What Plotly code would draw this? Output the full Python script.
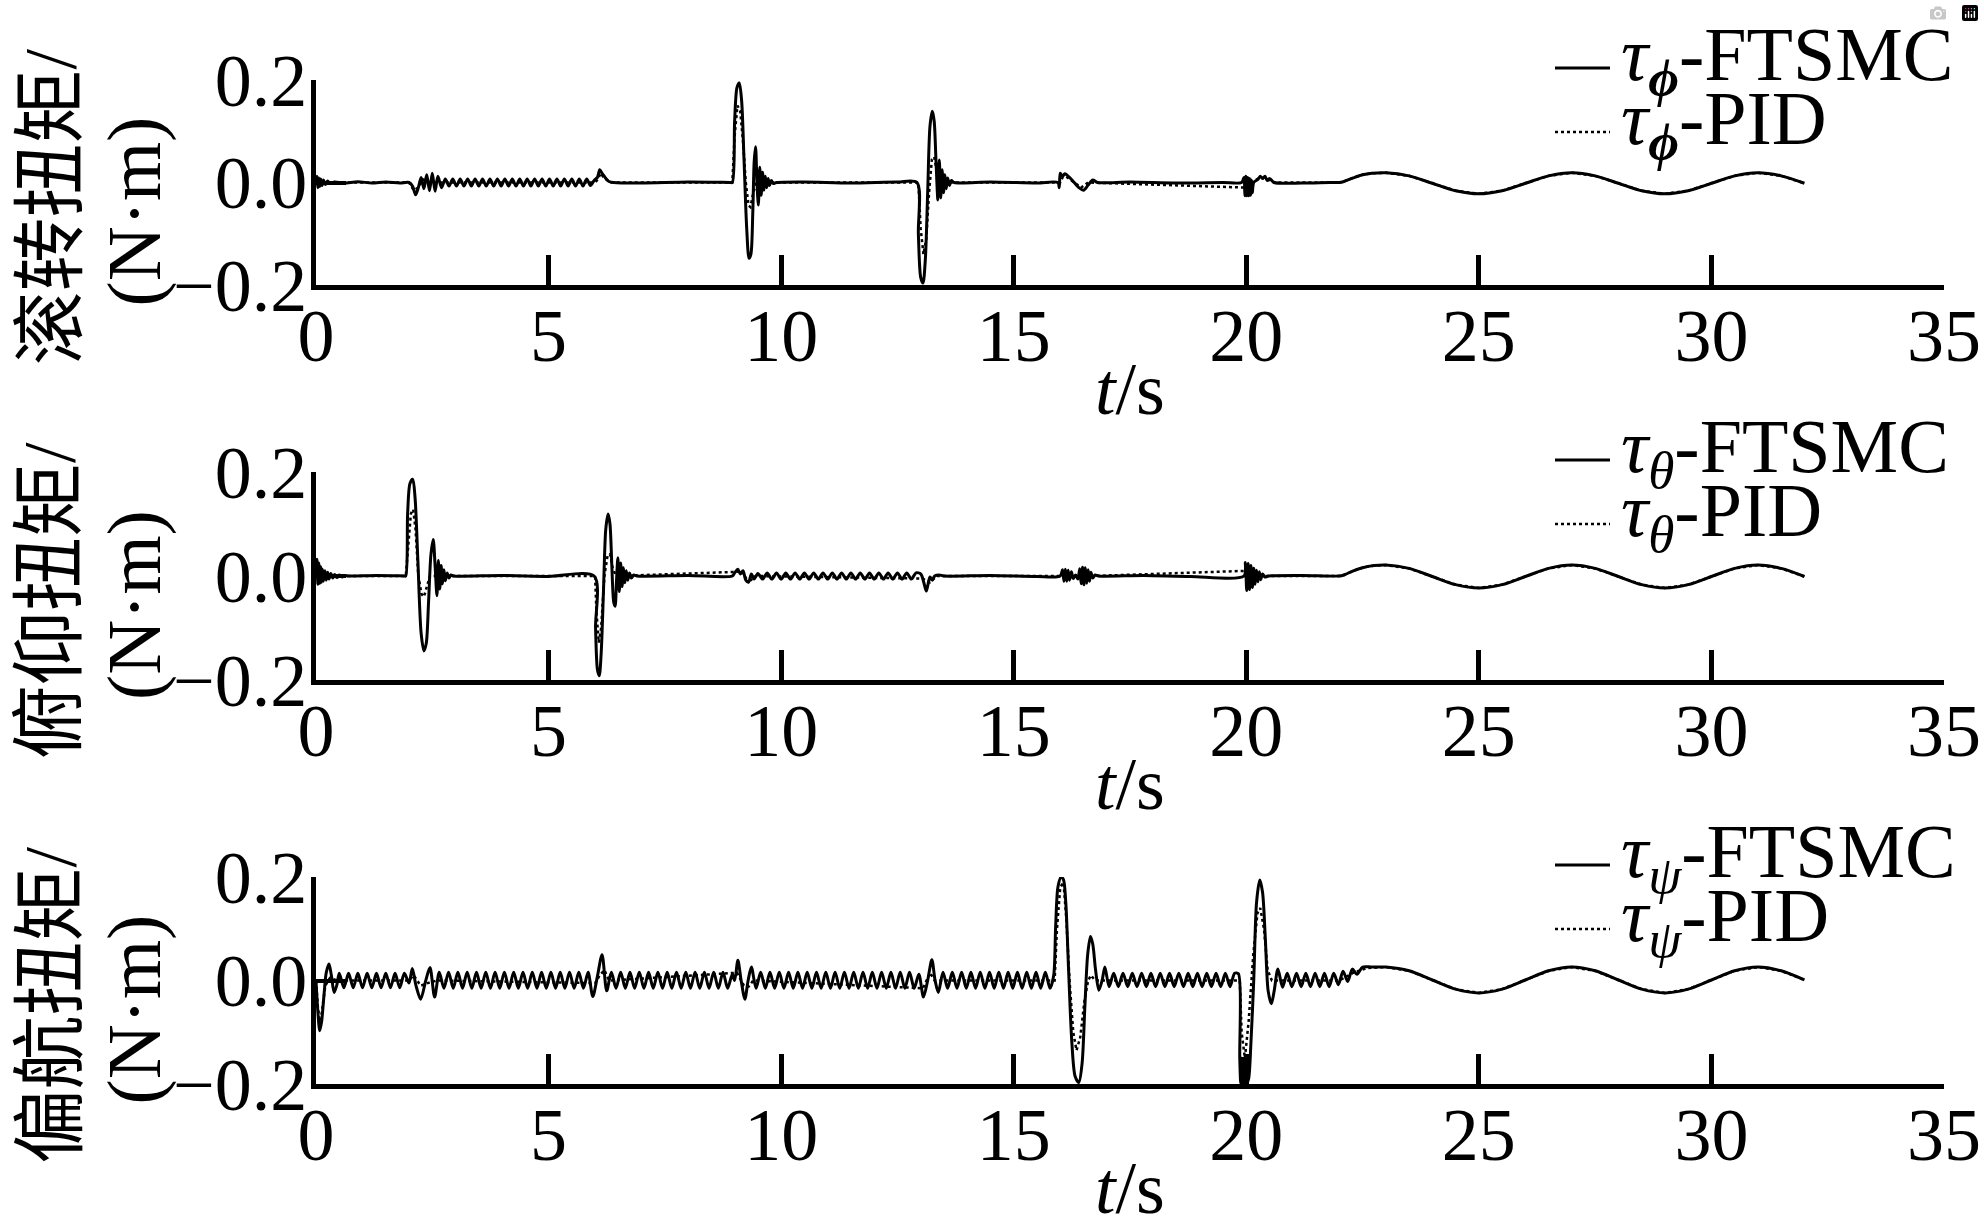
import plotly.graph_objects as go

# ---------------- data ----------------
X_TICKS = [0, 5, 10, 15, 20, 25, 30, 35]
Y_TICKS = [-0.2, 0.0, 0.2]
Y_TICK_TEXT = ["\u22120.2", "0.0", "0.2"]
Y_TITLES = ["滚转扭矩/", "俯仰扭矩/", "偏航扭矩/"]
UNIT_LABEL = "(N·m)"
X_TITLE = "<i>t</i>/s"
SUBSCRIPTS = ["<b><i>ϕ</i></b>", "<i>θ</i>", "<i>ψ</i>"]
METHODS = ["FTSMC", "PID"]

# roll torque, FTSMC (t [s], torque [N·m])
ROLL_FTSMC = [
    (0.00, 0.0), (0.02, 0.012), (0.04, -0.010), (0.06, 0.009), (0.08, -0.008), (0.10, 0.007),
    (0.13, -0.006), (0.16, 0.005), (0.20, -0.004), (0.25, 0.003), (0.30, -0.002), (0.40, 0.001),
    (0.60, -0.001), (0.90, 0.0015), (1.20, -0.001), (1.50, 0.001), (1.80, -0.001), (2.00, 0.0),
    (2.08, -0.008), (2.14, -0.024), (2.20, -0.010), (2.26, 0.010), (2.32, -0.012), (2.38, 0.015),
    (2.44, -0.016), (2.50, 0.018), (2.56, -0.017), (2.62, 0.012), (2.70, -0.010),
    (2.78, 0.007), (2.86, -0.007), (2.94, 0.007), (3.02, -0.007), (3.10, 0.007), (3.18, -0.007),
    (3.26, 0.007), (3.34, -0.007), (3.42, 0.007), (3.50, -0.007), (3.58, 0.007), (3.66, -0.007),
    (3.74, 0.007), (3.82, -0.007), (3.90, 0.007), (3.98, -0.007), (4.06, 0.007), (4.14, -0.007),
    (4.22, 0.007), (4.30, -0.007), (4.38, 0.007), (4.46, -0.007), (4.54, 0.007), (4.62, -0.007),
    (4.70, 0.007), (4.78, -0.007), (4.86, 0.007), (4.94, -0.007), (5.02, 0.007), (5.10, -0.007),
    (5.18, 0.007), (5.26, -0.007), (5.34, 0.007), (5.42, -0.007), (5.50, 0.007), (5.58, -0.007),
    (5.66, 0.007), (5.74, -0.007), (5.82, 0.007), (5.90, -0.006),
    (5.98, 0.004), (6.05, 0.010), (6.10, 0.025), (6.15, 0.018), (6.20, 0.012), (6.25, 0.006),
    (6.30, 0.002), (6.40, 0.0), (7.00, -0.001), (8.00, 0.001), (8.90, 0.0), (8.95, 0.0),
    (9.00, 0.120), (9.05, 0.185), (9.10, 0.194), (9.15, 0.160), (9.20, 0.050), (9.26, -0.090),
    (9.31, -0.148), (9.35, -0.140), (9.39, -0.060), (9.42, 0.040), (9.45, 0.070), (9.48, 0.0),
    (9.51, -0.044), (9.54, 0.030), (9.57, -0.025), (9.60, 0.020), (9.63, -0.015), (9.66, 0.012),
    (9.69, -0.010), (9.72, 0.008), (9.75, -0.006), (9.79, 0.004), (9.83, -0.002), (9.90, 0.0),
    (10.50, 0.001), (11.50, -0.001), (12.50, 0.001), (12.92, 0.0),
    (12.95, -0.100), (13.00, -0.185), (13.05, -0.196), (13.10, -0.150), (13.15, -0.020),
    (13.20, 0.110), (13.25, 0.139), (13.29, 0.120), (13.33, 0.040), (13.37, -0.034),
    (13.40, 0.044), (13.43, -0.030), (13.46, 0.025), (13.49, -0.020), (13.52, 0.015),
    (13.55, -0.012), (13.58, 0.009), (13.62, -0.006), (13.66, 0.004), (13.72, 0.0),
    (14.50, 0.001), (15.50, -0.001), (15.95, 0.0),
    (15.98, -0.010), (16.00, 0.018), (16.05, 0.012), (16.10, 0.017), (16.20, 0.010), (16.30, 0.0),
    (16.40, -0.010), (16.50, -0.015), (16.60, -0.005), (16.70, 0.005), (16.80, 0.0),
    (17.50, 0.001), (18.50, -0.001), (19.50, 0.0), (19.90, 0.0),
    (19.95, 0.010), (19.97, -0.026), (19.99, 0.012), (20.01, -0.026), (20.03, 0.010),
    (20.05, -0.026), (20.07, 0.008), (20.09, -0.025), (20.11, 0.005), (20.13, -0.020),
    (20.16, 0.0), (20.25, 0.006), (20.30, 0.012), (20.35, 0.008), (20.40, 0.012), (20.45, 0.004),
    (20.50, 0.008), (20.60, 0.0), (21.20, -0.001), (21.80, 0.0), (22.00, 0.0),
    (22.10, 0.002), (22.30, 0.009), (22.50, 0.015), (22.70, 0.018),
    (23.00, 0.019), (23.50, 0.013), (24.00, -0.0015), (24.50, -0.016), (25.00, -0.022),
    (25.50, -0.016), (26.00, -0.0015), (26.50, 0.013), (27.00, 0.019), (27.50, 0.013),
    (28.00, -0.0015), (28.50, -0.016), (29.00, -0.022), (29.50, -0.016), (30.00, -0.0015),
    (30.50, 0.013), (31.00, 0.019), (31.50, 0.013), (32.00, -0.0015),
]

# roll torque, PID
ROLL_PID = [
    (0.00, 0.0), (0.05, 0.005), (0.10, -0.003), (0.20, 0.0), (2.00, 0.0), (2.10, -0.015),
    (2.20, -0.010), (2.30, 0.006), (2.45, 0.0), (6.00, 0.0), (6.06, 0.006), (6.12, 0.018),
    (6.20, 0.008), (6.35, 0.0), (8.95, 0.0), (9.00, 0.090), (9.06, 0.150), (9.12, 0.140),
    (9.18, 0.080), (9.24, 0.0), (9.30, -0.045), (9.34, -0.048), (9.40, -0.020), (9.47, 0.0),
    (12.95, 0.0), (13.00, -0.090), (13.06, -0.140), (13.12, -0.110), (13.18, -0.020),
    (13.24, 0.045), (13.29, 0.050), (13.35, 0.020), (13.42, 0.0), (16.00, 0.0), (16.05, 0.010),
    (16.12, 0.012), (16.30, 0.0), (16.45, -0.010), (16.60, 0.0), (20.00, -0.010), (20.10, 0.0),
    (20.30, 0.010), (20.45, 0.006), (20.60, 0.0), (22.00, 0.0), (22.10, 0.002), (22.30, 0.009),
    (22.50, 0.015), (22.70, 0.018),
    (23.00, 0.019), (23.50, 0.013), (24.00, -0.0015), (24.50, -0.016), (25.00, -0.022),
    (25.50, -0.016), (26.00, -0.0015), (26.50, 0.013), (27.00, 0.019), (27.50, 0.013),
    (28.00, -0.0015), (28.50, -0.016), (29.00, -0.022), (29.50, -0.016), (30.00, -0.0015),
    (30.50, 0.013), (31.00, 0.019), (31.50, 0.013), (32.00, -0.0015),
]

# pitch torque, FTSMC
PITCH_FTSMC = [
    (0.00, 0.0), (0.02, 0.032), (0.04, -0.016), (0.06, 0.025), (0.08, -0.014), (0.10, 0.018),
    (0.12, -0.012), (0.14, 0.013), (0.16, -0.010), (0.19, 0.010), (0.22, -0.008), (0.25, 0.007),
    (0.28, -0.006), (0.32, 0.005), (0.36, -0.004), (0.40, 0.003), (0.45, -0.003), (0.50, 0.002),
    (0.56, -0.002), (0.62, 0.001), (0.70, 0.0), (1.30, 0.001), (1.90, 0.0),
    (1.93, 0.0), (1.97, 0.120), (2.02, 0.178), (2.08, 0.186), (2.13, 0.150), (2.19, 0.030),
    (2.26, -0.110), (2.32, -0.144), (2.37, -0.130), (2.42, -0.050), (2.47, 0.040), (2.52, 0.070),
    (2.56, 0.020), (2.60, -0.038), (2.63, 0.030), (2.66, -0.025), (2.69, 0.020), (2.72, -0.015),
    (2.75, 0.012), (2.78, -0.009), (2.82, 0.006), (2.86, -0.004), (2.90, 0.002), (2.96, 0.0),
    (4.00, 0.001), (5.00, -0.001), (5.98, 0.0),
    (6.01, -0.100), (6.05, -0.180), (6.09, -0.192), (6.13, -0.150), (6.18, -0.030), (6.23, 0.090),
    (6.28, 0.119), (6.32, 0.100), (6.36, 0.020), (6.40, -0.050), (6.43, -0.058), (6.46, -0.010),
    (6.49, 0.035), (6.52, -0.030), (6.55, 0.025), (6.58, -0.020), (6.61, 0.016), (6.64, -0.013),
    (6.67, 0.010), (6.70, -0.008), (6.74, 0.006), (6.78, -0.004), (6.83, 0.002), (6.90, 0.0),
    (8.00, 0.001), (8.95, 0.0),
    (9.00, 0.006), (9.07, 0.013), (9.12, 0.004), (9.18, 0.010), (9.24, -0.008), (9.30, -0.012),
    (9.36, 0.004), (9.42, -0.006), (9.50, 0.005),
    (9.60, -0.006), (9.70, 0.006), (9.80, -0.006), (9.90, 0.006), (10.00, -0.006), (10.10, 0.006),
    (10.20, -0.006), (10.30, 0.006), (10.40, -0.006), (10.50, 0.006), (10.60, -0.006), (10.70, 0.006),
    (10.80, -0.006), (10.90, 0.006), (11.00, -0.006), (11.10, 0.006), (11.20, -0.006), (11.30, 0.006),
    (11.40, -0.006), (11.50, 0.006), (11.60, -0.006), (11.70, 0.006), (11.80, -0.006), (11.90, 0.006),
    (12.00, -0.006), (12.10, 0.006), (12.20, -0.006), (12.30, 0.006), (12.40, -0.006), (12.50, 0.006),
    (12.60, -0.006), (12.70, 0.006), (12.80, -0.006), (12.90, 0.006), (13.00, 0.004),
    (13.06, -0.010), (13.12, -0.029), (13.16, -0.015), (13.20, -0.002), (13.25, -0.008),
    (13.30, 0.0), (13.40, 0.002), (13.50, 0.0), (14.50, 0.001), (15.50, -0.001), (16.00, 0.0),
    (16.05, 0.012), (16.08, -0.010), (16.11, 0.013), (16.14, -0.010), (16.17, 0.011),
    (16.20, -0.008), (16.24, 0.008), (16.28, -0.005), (16.33, 0.002), (16.38, -0.006),
    (16.42, 0.014), (16.45, -0.015), (16.48, 0.017), (16.51, -0.017), (16.54, 0.016),
    (16.57, -0.014), (16.60, 0.012), (16.63, -0.010), (16.66, 0.007), (16.70, -0.004),
    (16.75, 0.002), (16.82, 0.0), (17.80, 0.001), (18.80, -0.001), (19.95, 0.0),
    (19.98, 0.026), (20.01, -0.028), (20.04, 0.024), (20.07, -0.026), (20.10, 0.020),
    (20.13, -0.022), (20.16, 0.015), (20.19, -0.016), (20.22, 0.011), (20.25, -0.011),
    (20.28, 0.008), (20.31, -0.007), (20.35, 0.004), (20.40, -0.002), (20.48, 0.0),
    (21.20, 0.001), (22.00, 0.0), (22.10, 0.002), (22.30, 0.010), (22.50, 0.016), (22.75, 0.020),
    (23.00, 0.021), (23.50, 0.0146), (24.00, -0.001), (24.50, -0.0166), (25.00, -0.023),
    (25.50, -0.0166), (26.00, -0.001), (26.50, 0.0146), (27.00, 0.021), (27.50, 0.0146),
    (28.00, -0.001), (28.50, -0.0166), (29.00, -0.023), (29.50, -0.0166), (30.00, -0.001),
    (30.50, 0.0146), (31.00, 0.021), (31.50, 0.0146), (32.00, -0.001),
]

# pitch torque, PID
PITCH_PID = [
    (0.00, 0.0), (0.03, 0.010), (0.08, -0.005), (0.15, 0.0), (1.93, 0.0), (1.98, 0.060),
    (2.04, 0.120), (2.09, 0.128), (2.14, 0.090), (2.20, 0.0), (2.27, -0.035), (2.32, -0.040),
    (2.38, -0.020), (2.45, 0.0), (6.00, 0.0), (6.03, -0.070), (6.08, -0.128), (6.13, -0.100),
    (6.20, 0.0), (6.27, 0.040), (6.32, 0.042), (6.38, 0.015), (6.45, 0.0), (9.05, 0.008),
    (9.15, 0.010), (9.25, -0.005), (9.35, -0.008), (9.45, 0.0), (13.05, -0.005), (13.12, -0.010),
    (13.20, -0.012), (13.28, -0.006), (13.35, 0.0), (16.00, 0.0), (16.10, 0.005), (16.30, 0.0),
    (16.50, 0.006), (16.70, 0.0), (20.00, 0.010), (20.10, -0.010), (20.20, 0.004), (20.30, 0.0),
    (22.00, 0.0), (22.10, 0.002), (22.30, 0.010), (22.50, 0.016), (22.75, 0.020),
    (23.00, 0.021), (23.50, 0.0146), (24.00, -0.001), (24.50, -0.0166), (25.00, -0.023),
    (25.50, -0.0166), (26.00, -0.001), (26.50, 0.0146), (27.00, 0.021), (27.50, 0.0146),
    (28.00, -0.001), (28.50, -0.0166), (29.00, -0.023), (29.50, -0.0166), (30.00, -0.001),
    (30.50, 0.0146), (31.00, 0.021), (31.50, 0.0146), (32.00, -0.001),
]

# yaw torque, FTSMC
YAW_FTSMC = [
    (0.00, 0.0), (0.04, -0.060), (0.08, -0.097), (0.12, -0.080), (0.17, -0.030), (0.22, 0.015),
    (0.28, 0.032), (0.33, 0.010), (0.39, -0.023), (0.45, -0.008),
    (0.50, 0.014), (0.60, -0.014), (0.70, 0.014), (0.80, -0.014), (0.90, 0.014), (1.00, -0.014),
    (1.10, 0.014), (1.20, -0.014), (1.30, 0.014), (1.40, -0.014), (1.50, 0.014), (1.60, -0.014),
    (1.70, 0.014), (1.80, -0.014), (1.90, 0.014),
    (2.00, -0.005), (2.07, 0.023), (2.15, -0.010), (2.25, -0.036), (2.36, 0.0), (2.45, 0.025),
    (2.55, -0.032), (2.65, 0.016), (2.75, -0.015),
    (2.85, 0.016), (2.95, -0.015), (3.05, 0.016), (3.15, -0.015), (3.25, 0.016), (3.35, -0.015),
    (3.45, 0.016), (3.55, -0.015), (3.65, 0.016), (3.75, -0.015), (3.85, 0.016), (3.95, -0.015),
    (4.05, 0.016), (4.15, -0.015), (4.25, 0.016), (4.35, -0.015), (4.45, 0.016), (4.55, -0.015),
    (4.65, 0.016), (4.75, -0.015), (4.85, 0.016), (4.95, -0.015), (5.05, 0.016), (5.15, -0.015),
    (5.25, 0.016), (5.35, -0.015), (5.45, 0.016), (5.55, -0.015), (5.65, 0.016), (5.75, -0.015),
    (5.85, 0.016),
    (5.95, -0.031), (6.05, 0.008), (6.15, 0.050), (6.25, -0.020), (6.35, 0.016), (6.45, -0.015),
    (6.55, 0.016), (6.65, -0.015), (6.75, 0.016), (6.85, -0.015), (6.95, 0.016), (7.05, -0.015),
    (7.15, 0.016), (7.25, -0.015), (7.35, 0.016), (7.45, -0.015), (7.55, 0.016), (7.65, -0.015),
    (7.75, 0.016), (7.85, -0.015), (7.95, 0.016), (8.05, -0.015), (8.15, 0.016), (8.25, -0.015),
    (8.35, 0.016), (8.45, -0.015), (8.55, 0.016), (8.65, -0.015), (8.75, 0.016), (8.85, -0.015),
    (8.95, 0.012), (9.00, 0.0), (9.07, 0.039), (9.14, 0.0), (9.22, -0.036), (9.29, 0.0),
    (9.36, 0.026), (9.46, -0.015),
    (9.56, 0.016), (9.66, -0.015), (9.76, 0.016), (9.86, -0.015), (9.96, 0.016), (10.06, -0.015),
    (10.16, 0.016), (10.26, -0.015), (10.36, 0.016), (10.46, -0.015), (10.56, 0.016), (10.66, -0.015),
    (10.76, 0.016), (10.86, -0.015), (10.96, 0.016), (11.06, -0.015), (11.16, 0.016), (11.26, -0.015),
    (11.36, 0.016), (11.46, -0.015), (11.56, 0.016), (11.66, -0.015), (11.76, 0.016), (11.86, -0.015),
    (11.96, 0.016), (12.06, -0.015), (12.16, 0.016), (12.26, -0.015), (12.36, 0.016), (12.46, -0.015),
    (12.56, 0.016), (12.66, -0.015), (12.76, 0.016), (12.86, -0.015),
    (12.96, 0.012), (13.06, -0.032), (13.15, 0.0), (13.24, 0.040), (13.31, 0.0), (13.38, -0.023),
    (13.48, 0.016),
    (13.58, -0.015), (13.68, 0.016), (13.78, -0.015), (13.88, 0.016), (13.98, -0.015), (14.08, 0.016),
    (14.18, -0.015), (14.28, 0.016), (14.38, -0.015), (14.48, 0.016), (14.58, -0.015), (14.68, 0.016),
    (14.78, -0.015), (14.88, 0.016), (14.98, -0.015), (15.08, 0.016), (15.18, -0.015), (15.28, 0.016),
    (15.38, -0.015), (15.48, 0.016), (15.58, -0.015), (15.68, 0.016), (15.78, -0.015), (15.86, 0.010),
    (15.90, 0.100), (15.95, 0.180), (16.02, 0.200), (16.07, 0.195), (16.12, 0.150), (16.18, 0.020),
    (16.25, -0.120), (16.32, -0.185), (16.40, -0.197), (16.47, -0.160), (16.53, -0.050),
    (16.59, 0.050), (16.65, 0.085), (16.70, 0.070), (16.76, 0.020), (16.83, -0.019), (16.90, 0.0),
    (16.96, 0.026), (17.05, -0.012),
    (17.15, 0.014), (17.25, -0.012), (17.35, 0.014), (17.45, -0.012), (17.55, 0.014), (17.65, -0.012),
    (17.75, 0.014), (17.85, -0.012), (17.95, 0.014), (18.05, -0.012), (18.15, 0.014), (18.25, -0.012),
    (18.35, 0.014), (18.45, -0.012), (18.55, 0.014), (18.65, -0.012), (18.75, 0.014), (18.85, -0.012),
    (18.95, 0.014), (19.05, -0.012), (19.15, 0.014), (19.25, -0.012), (19.35, 0.014), (19.45, -0.012),
    (19.55, 0.014), (19.65, -0.012), (19.75, 0.014), (19.83, 0.013),
    (19.86, -0.150), (19.88, -0.198), (19.90, -0.150), (19.92, -0.198), (19.94, -0.150),
    (19.96, -0.198), (19.98, -0.170), (20.01, -0.198), (20.05, -0.190), (20.10, -0.120),
    (20.16, 0.0), (20.22, 0.150), (20.29, 0.194), (20.35, 0.170), (20.41, 0.080), (20.47, -0.020),
    (20.54, -0.045), (20.60, -0.020), (20.68, 0.022), (20.78, -0.013),
    (20.88, 0.014), (20.98, -0.012), (21.08, 0.014), (21.18, -0.012), (21.28, 0.014), (21.38, -0.012),
    (21.48, 0.014), (21.58, -0.012), (21.68, 0.014), (21.78, -0.012), (21.88, 0.014), (21.98, -0.008),
    (22.08, 0.018), (22.18, -0.002), (22.28, 0.022), (22.38, 0.012), (22.50, 0.026), (22.70, 0.026),
    (23.00, 0.026), (23.50, 0.0187), (24.00, 0.001), (24.50, -0.0167), (25.00, -0.024),
    (25.50, -0.0167), (26.00, 0.001), (26.50, 0.0187), (27.00, 0.026), (27.50, 0.0187),
    (28.00, 0.001), (28.50, -0.0167), (29.00, -0.024), (29.50, -0.0167), (30.00, 0.001),
    (30.50, 0.0187), (31.00, 0.026), (31.50, 0.0187), (32.00, 0.001),
]

# yaw torque, PID
YAW_PID = [
    (0.00, 0.0), (0.04, -0.050), (0.09, -0.085), (0.14, -0.050), (0.20, -0.010), (0.30, 0.005),
    (0.45, 0.0), (2.00, 0.0), (2.10, 0.010), (2.25, -0.010), (2.40, -0.005), (2.60, 0.0),
    (6.00, -0.005), (6.10, 0.010), (6.20, 0.020), (6.30, 0.0), (9.05, 0.015), (9.20, -0.010),
    (9.30, -0.012), (9.40, 0.0), (13.05, -0.015), (13.20, 0.015), (13.30, 0.0), (15.88, 0.0),
    (15.93, 0.100), (16.00, 0.180), (16.07, 0.190), (16.13, 0.120), (16.20, 0.0), (16.28, -0.100),
    (16.35, -0.135), (16.43, -0.110), (16.52, -0.040), (16.60, 0.0), (16.66, 0.010), (16.75, 0.0),
    (19.86, 0.0), (19.90, -0.100), (19.97, -0.150), (20.05, -0.080), (20.15, 0.050),
    (20.24, 0.130), (20.30, 0.140), (20.38, 0.100), (20.46, 0.020), (20.55, 0.0), (22.00, 0.0),
    (22.30, 0.015), (22.60, 0.024),
    (23.00, 0.026), (23.50, 0.0187), (24.00, 0.001), (24.50, -0.0167), (25.00, -0.024),
    (25.50, -0.0167), (26.00, 0.001), (26.50, 0.0187), (27.00, 0.026), (27.50, 0.0187),
    (28.00, 0.001), (28.50, -0.0167), (29.00, -0.024), (29.50, -0.0167), (30.00, 0.001),
    (30.50, 0.0187), (31.00, 0.026), (31.50, 0.0187), (32.00, 0.001),
]

SERIES = [(ROLL_FTSMC, ROLL_PID), (PITCH_FTSMC, PITCH_PID), (YAW_FTSMC, YAW_PID)]

# ---------------- layout geometry (pixels) ----------------
W, H = 1984, 1232
PL, PR, PT, PB = 316, 1944, 80, 1084
PANELS_PX = [(80, 285), (472, 680), (877, 1084)]  # (top, bottom) of each plot area

SERIF = "Liberation Serif, Times New Roman, serif"
CJK = "Liberation Serif, Noto Sans CJK SC, sans-serif"


def fx(xp):
    return (xp - PL) / (PR - PL)


def fy(yp):
    return (PB - yp) / (PB - PT)


fig = go.Figure()
annotations = []
shapes = []

for i, ((ft, pid), (top, bot)) in enumerate(zip(SERIES, PANELS_PX)):
    sfx = "" if i == 0 else str(i + 1)
    xa, ya = "x" + sfx, "y" + sfx
    fig.add_trace(go.Scatter(
        x=[p[0] for p in ft], y=[p[1] for p in ft], mode="lines",
        line=dict(color="black", width=3, shape="spline", smoothing=0.8),
        xaxis=xa, yaxis=ya, showlegend=False, name=METHODS[0]))
    fig.add_trace(go.Scatter(
        x=[p[0] for p in pid], y=[p[1] for p in pid], mode="lines",
        line=dict(color="black", width=2.5, dash="dot", shape="linear"),
        xaxis=xa, yaxis=ya, showlegend=False, name=METHODS[1]))

    fig.layout["xaxis" + sfx] = dict(
        domain=[0, 1], anchor=ya, range=[0, 35], tickvals=X_TICKS,
        showline=True, linewidth=5, linecolor="black", mirror=False,
        ticks="inside", ticklen=30, tickwidth=5, tickcolor="black",
        tickfont=dict(family=SERIF, size=74, color="black"), ticklabelstandoff=-18,
        showgrid=False, zeroline=False, automargin=False, fixedrange=True)
    fig.layout["yaxis" + sfx] = dict(
        domain=[fy(bot), fy(top)], anchor=xa, range=[-0.2, 0.2],
        tickvals=Y_TICKS, ticktext=Y_TICK_TEXT,
        showline=True, linewidth=5, linecolor="black", mirror=False,
        ticks="inside", ticklen=30, tickwidth=4, tickcolor="black",
        tickfont=dict(family=SERIF, size=74, color="black"), ticklabelstandoff=-11,
        showgrid=False, zeroline=False, automargin=False, fixedrange=True)

    mid = (top + bot) / 2
    annotations.append(dict(text=Y_TITLES[i], x=fx(50), y=fy(mid + 25), xref="paper", yref="paper",
                            textangle=-90, showarrow=False, xanchor="center", yanchor="middle",
                            font=dict(family=CJK, size=74, color="black")))
    annotations.append(dict(text=UNIT_LABEL, x=fx(134), y=fy(mid + 29), xref="paper", yref="paper",
                            textangle=-90, showarrow=False, xanchor="center", yanchor="middle",
                            font=dict(family=SERIF, size=76, color="black")))
    annotations.append(dict(text=X_TITLE, x=0.5, y=fy(bot + 104), xref="paper", yref="paper",
                            showarrow=False, xanchor="center", yanchor="middle",
                            font=dict(family=SERIF, size=74, color="black")))
    # legend (manual, matching the reference layout)
    rows = [(top - 20, "solid", METHODS[0]), (top + 44, "dot", METHODS[1])]
    for ry, dash, meth in rows:
        annotations.append(dict(text=f"<i>τ</i><sub>{SUBSCRIPTS[i]}</sub>-{meth}",
                                x=fx(1619), y=fy(ry), xref="paper", yref="paper",
                                showarrow=False, xanchor="left", yanchor="middle",
                                font=dict(family=SERIF, size=76, color="black")))
        shapes.append(dict(type="line", xref="paper", yref="paper",
                           x0=fx(1555), x1=fx(1610), y0=fy(ry + 8), y1=fy(ry + 8),
                           line=dict(color="black", width=3 if dash == "solid" else 2.5, dash=dash)))

fig.update_layout(
    template="none",
    width=W, height=H,
    margin=dict(l=PL, r=W - PR, t=PT, b=H - PB, pad=0),
    paper_bgcolor="white", plot_bgcolor="white",
    showlegend=False,
    annotations=annotations,
    shapes=shapes,
    font=dict(family=SERIF, color="black"),
)

fig.write_html("out.html", post_script="document.body.style.margin='0';")
